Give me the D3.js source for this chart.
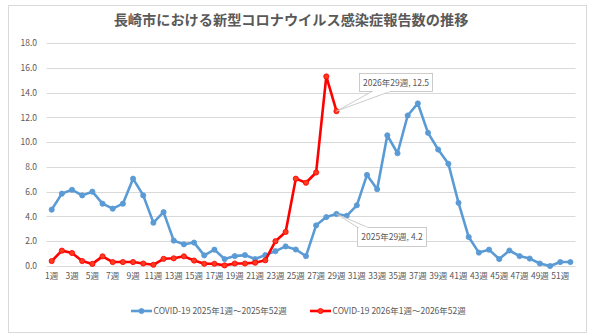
<!DOCTYPE html>
<html><head><meta charset="utf-8">
<script src="https://cdn.jsdelivr.net/npm/d3@7"></script>
<style>
html,body{margin:0;padding:0;background:#fff;}
svg{display:block;font-family:"Noto Sans CJK JP","Noto Sans",sans-serif;}
</style></head>
<body><svg id="c" width="600" height="336"></svg>
<script>
const weeks = d3.range(1, 53);
const weekLabels = weeks.map(w => w + "週");
const yTicks = [0, 2, 4, 6, 8, 10, 12, 14, 16, 18];
const series2025 = [4.55,5.84,6.15,5.7,6.0,5.03,4.63,5.03,7.05,5.7,3.5,4.35,2.05,1.75,1.89,0.86,1.32,0.56,0.8,0.88,0.56,0.88,1.2,1.58,1.33,0.8,3.28,3.95,4.2,4.05,4.9,7.35,6.2,10.55,9.1,12.15,13.12,10.75,9.4,8.25,5.1,2.34,1.08,1.32,0.56,1.25,0.8,0.6,0.2,0.0,0.32,0.32];
const series2026 = [0.4,1.24,1.05,0.4,0.17,0.78,0.32,0.32,0.32,0.2,0.1,0.58,0.62,0.78,0.44,0.18,0.18,0.05,0.2,0.2,0.27,0.46,2.0,2.75,7.05,6.72,7.55,15.3,12.5];
const seriesNames = ["COVID-19 2025年1週～2025年52週", "COVID-19 2026年1週～2026年52週"];
const seriesYears = [2025, 2026];
const seriesColors = ["#5b9bd5", "#ff0000"];
const title = "長崎市における新型コロナウイルス感染症報告数の推移";
const calloutWeek = 29;

const svg = d3.select("#c");
const textColor = "#595959";
const gridColor = "#d9d9d9";

// outer frame
svg.append("rect").attr("x", 8.5).attr("y", 5.5).attr("width", 578).attr("height", 327)
  .attr("fill", "#fff").attr("stroke", gridColor).attr("stroke-width", 1);

svg.append("text").attr("x", 291).attr("y", 25).attr("text-anchor", "middle")
  .attr("font-size", 14.2).attr("font-weight", "bold").attr("fill", textColor).text(title);

const x = d3.scaleBand().domain(weeks).range([46.6, 575.5]);
const cx = w => x(w) + x.bandwidth() / 2;
const y = d3.scaleLinear().domain([0, 18]).range([266, 43]);

// gridlines
svg.append("g").selectAll("line").data(yTicks).join("line")
  .attr("x1", 46.6).attr("x2", 575.5)
  .attr("y1", d => Math.round(y(d)) + 0.5).attr("y2", d => Math.round(y(d)) + 0.5)
  .attr("stroke", gridColor).attr("stroke-width", 1);

// y axis labels
const yAxis = d3.axisLeft(y).tickValues(yTicks).tickFormat(d3.format(".1f")).tickSize(0).tickPadding(0);
const gy = svg.append("g").attr("transform", "translate(37,0)").call(yAxis);
gy.select(".domain").remove();
gy.selectAll("text").attr("fill", textColor).attr("font-size", 8.5)
  .attr("font-family", "'Noto Sans CJK JP',sans-serif");

// x axis labels (odd weeks)
const xAxis = d3.axisBottom(x).tickValues(weeks.filter(w => w % 2 === 1))
  .tickFormat(w => weekLabels[w - 1]).tickSize(0).tickPadding(0);
const gx = svg.append("g").attr("transform", "translate(0,273)").call(xAxis);
gx.select(".domain").remove();
gx.selectAll("text").attr("fill", textColor).attr("font-size", 8.5)
  .attr("font-family", "'Noto Sans CJK JP',sans-serif");

const line = d3.line().x((d, i) => cx(weeks[i])).y(d => y(d));
[series2025, series2026].forEach((s, k) => {
  const g = svg.append("g");
  g.append("path").datum(s).attr("d", line).attr("fill", "none")
    .attr("stroke", seriesColors[k]).attr("stroke-width", 2.6).attr("stroke-linejoin", "round");
  g.selectAll("circle").data(s).join("circle")
    .attr("cx", (d, i) => cx(weeks[i])).attr("cy", d => y(d)).attr("r", 2.6)
    .attr("fill", k === 1 ? "#ff3b1f" : seriesColors[k]).attr("stroke", seriesColors[k]).attr("stroke-width", 0.8);
});

// callouts
function callout(k, bx, by, bw, bh, base1, base2) {
  const s = k === 0 ? series2025 : series2026;
  const v = s[calloutWeek - 1];
  const px = cx(calloutWeek), py = y(v);
  const label = `${seriesYears[k]}年${calloutWeek}週, ${v}`;
  const g = svg.append("g");
  const baseY = py < by ? by : by + bh;
  g.append("path").attr("d", `M${px},${py}L${base1},${baseY}L${base2},${baseY}Z`)
    .attr("fill", "#fff").attr("stroke", "#bfbfbf").attr("stroke-width", 0.8);
  g.append("rect").attr("x", bx).attr("y", by).attr("width", bw).attr("height", bh)
    .attr("fill", "#fff").attr("stroke", "#bfbfbf").attr("stroke-width", 0.8);
  g.append("line").attr("x1", base1 + 0.6).attr("x2", base2 - 0.6).attr("y1", baseY).attr("y2", baseY)
    .attr("stroke", "#fff").attr("stroke-width", 1.4);
  g.append("text").attr("x", bx + bw / 2).attr("y", by + bh / 2 + 3).attr("text-anchor", "middle")
    .attr("font-size", 8.5).attr("fill", textColor).text(label);
}
callout(1, 359.5, 73.5, 73, 18, 372, 390);
callout(0, 357.5, 227.5, 69, 19, 357.8, 368);

// legend
const legend = [[131, 153.5], [310, 332.5]];
legend.forEach(([lx, tx], k) => {
  svg.append("line").attr("x1", lx).attr("x2", lx + 21).attr("y1", 311).attr("y2", 311)
    .attr("stroke", seriesColors[k]).attr("stroke-width", 2.6);
  svg.append("circle").attr("cx", lx + 10.5).attr("cy", 311).attr("r", 2.6)
    .attr("fill", k === 1 ? "#ff3b1f" : seriesColors[k]).attr("stroke", seriesColors[k]).attr("stroke-width", 0.8);
  svg.append("text").attr("x", tx).attr("y", 314).attr("font-size", 8.5).attr("fill", textColor).text(seriesNames[k]);
});
</script></body></html>
